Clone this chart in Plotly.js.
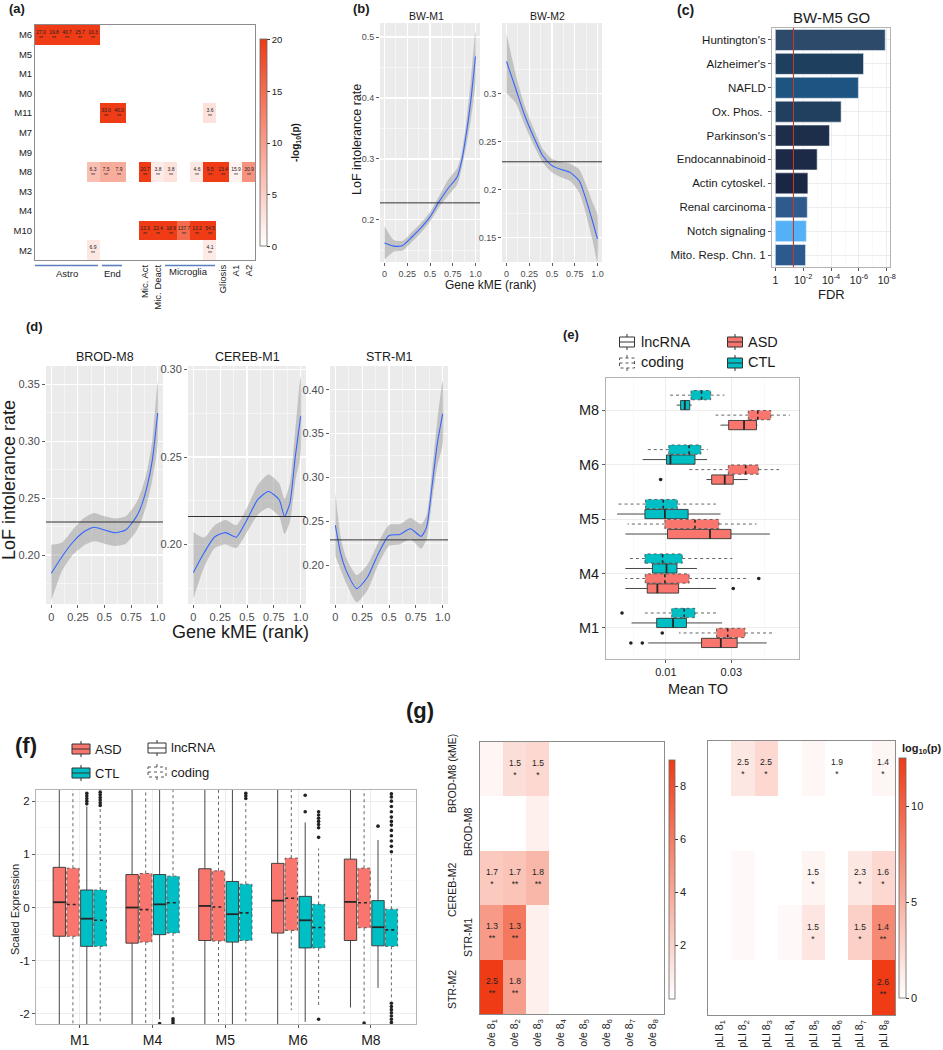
<!DOCTYPE html>
<html>
<head>
<meta charset="utf-8">
<script src="https://cdn.plot.ly/plotly-3.0.1.min.js"></script>
<style>
  html, body { margin: 0; padding: 0; background: #fff; }
  #fig { width: 943px; height: 1050px; }
</style>
</head>
<body>
<div id="fig"></div>
<script>
// ---------- (a) cell-type enrichment heatmap ----------
const aRows = ['M6', 'M5', 'M1', 'M0', 'M11', 'M7', 'M9', 'M8', 'M3', 'M4', 'M10', 'M2'];
const aCols = ['Astro 1', 'Astro 2', 'Astro 3', 'Astro 4', 'Astro 5', 'End 1', 'End 2', '',
  'Mic. Act', 'Mic. Deact', 'Microglia 1', 'Microglia 2', 'Microglia 3', 'Microglia 4', 'Gliosis', 'A1', 'A2'];
// -log10(p), capped at 20
const aLogP = [
  [20, 20, 20, 20, 20, 0, 0, 0, 0, 0, 0, 0, 0, 0, 0, 0, 0],
  [0, 0, 0, 0, 0, 0, 0, 0, 0, 0, 0, 0, 0, 0, 0, 0, 0],
  [0, 0, 0, 0, 0, 0, 0, 0, 0, 0, 0, 0, 0, 0, 0, 0, 0],
  [0, 0, 0, 0, 0, 0, 0, 0, 0, 0, 0, 0, 0, 0, 0, 0, 0],
  [0, 0, 0, 0, 0, 20, 20, 0, 0, 0, 0, 0, 0, 3, 0, 0, 0],
  [0, 0, 0, 0, 0, 0, 0, 0, 0, 0, 0, 0, 0, 0, 0, 0, 0],
  [0, 0, 0, 0, 0, 0, 0, 0, 0, 0, 0, 0, 0, 0, 0, 0, 0],
  [0, 0, 0, 0, 6.5, 8.5, 8.5, 0, 20, 2, 3, 0, 2.5, 20, 20, 1.2, 11],
  [0, 0, 0, 0, 0, 0, 0, 0, 0, 0, 0, 0, 0, 0, 0, 0, 0],
  [0, 0, 0, 0, 0, 0, 0, 0, 0, 0, 0, 0, 0, 0, 0, 0, 0],
  [0, 0, 0, 0, 0, 0, 0, 0, 20, 20, 20, 15, 20, 20, 0, 0, 0],
  [0, 0, 0, 0, 2.5, 0, 0, 0, 0, 0, 0, 0, 0, 2.2, 0, 0, 0]
];
const N = null;
// odds ratios printed in the cells
const aOR = [
  [27.0, 19.8, 40.7, 25.7, 10.3, N, N, N, N, N, N, N, N, N, N, N, N],
  [N, N, N, N, N, N, N, N, N, N, N, N, N, N, N, N, N],
  [N, N, N, N, N, N, N, N, N, N, N, N, N, N, N, N, N],
  [N, N, N, N, N, N, N, N, N, N, N, N, N, N, N, N, N],
  [N, N, N, N, N, 33.0, 40.0, N, N, N, N, N, N, 3.6, N, N, N],
  [N, N, N, N, N, N, N, N, N, N, N, N, N, N, N, N, N],
  [N, N, N, N, N, N, N, N, N, N, N, N, N, N, N, N, N],
  [N, N, N, N, 6.3, 7.5, 7.9, N, 20.7, 3.8, 3.8, N, 4.6, 9.5, 13.4, 15.9, 30.9],
  [N, N, N, N, N, N, N, N, N, N, N, N, N, N, N, N, N],
  [N, N, N, N, N, N, N, N, N, N, N, N, N, N, N, N, N],
  [N, N, N, N, N, N, N, N, 13.3, 22.4, 18.9, 137.7, 13.2, 54.5, N, N, N],
  [N, N, N, N, 6.9, N, N, N, N, N, N, N, N, 4.1, N, N, N]
];
const aTickCols = ['Mic. Act', 'Mic. Deact', 'Gliosis', 'A1', 'A2'];

// ---------- (b) BW modules, LoF intolerance vs kME ----------
const bwX = [0, 0.1, 0.2, 0.3, 0.4, 0.5, 0.6, 0.7, 0.8, 0.85, 0.9, 0.95, 1.0];
const bwM1Fit = [0.162, 0.157, 0.158, 0.172, 0.187, 0.205, 0.230, 0.252, 0.271, 0.298, 0.342, 0.397, 0.468];
const bwM1Lo = [0.135, 0.148, 0.150, 0.164, 0.179, 0.197, 0.221, 0.240, 0.258, 0.285, 0.322, 0.365, 0.425];
const bwM1Hi = [0.190, 0.167, 0.166, 0.180, 0.195, 0.213, 0.239, 0.266, 0.285, 0.311, 0.362, 0.430, 0.510];
const bwM2Fit = [0.333, 0.305, 0.277, 0.2545, 0.235, 0.225, 0.221, 0.218, 0.209, 0.197, 0.182, 0.166, 0.149];
const bwM2Lo = [0.300, 0.290, 0.267, 0.246, 0.228, 0.218, 0.213, 0.209, 0.197, 0.183, 0.165, 0.146, 0.124];
const bwM2Hi = [0.362, 0.320, 0.287, 0.263, 0.242, 0.232, 0.229, 0.227, 0.221, 0.211, 0.199, 0.186, 0.174];
const bwBase = [0.228, 0.229];

// ---------- (c) BW-M5 GO terms ----------
const cTerms = ["Huntington's", "Alzheimer's", 'NAFLD', 'Ox. Phos. ', "Parkinson's", 'Endocannabinoid',
  'Actin cytoskel.', 'Renal carcinoma', 'Notch signaling', 'Mito. Resp. Chn. 1'];
const cFdr = [1.3e-8, 4.7e-7, 1.1e-6, 1.9e-5, 1.3e-4, 1.0e-3, 4.6e-3, 5.1e-3, 6.0e-3, 6.8e-3];
const cColors = ['#2d4a6a', '#1f3f5e', '#1d5480', '#21405f', '#1d2e4b', '#1c2a47', '#1a2744', '#2f5b8c', '#55b1f7', '#2c5a8e'];
const cFdrCut = 0.05;

// ---------- (d) other modules ----------
const brodX = [0, 0.1, 0.2, 0.3, 0.4, 0.5, 0.6, 0.7, 0.8, 0.85, 0.9, 0.95, 1.0];
const brodFit = [0.184, 0.1985, 0.211, 0.220, 0.2244, 0.222, 0.2196, 0.222, 0.2337, 0.244, 0.260, 0.2836, 0.3247];
const brodLo = [0.160, 0.186, 0.200, 0.208, 0.212, 0.210, 0.208, 0.210, 0.221, 0.231, 0.246, 0.266, 0.298];
const brodHi = [0.209, 0.211, 0.222, 0.232, 0.237, 0.234, 0.232, 0.234, 0.246, 0.257, 0.274, 0.301, 0.352];
const cerebX = [0, 0.1, 0.2, 0.3, 0.4, 0.5, 0.6, 0.7, 0.8, 0.85, 0.9, 0.95, 1.0];
const cerebFit = [0.184, 0.1953, 0.2044, 0.2068, 0.2042, 0.2142, 0.2256, 0.2303, 0.2256, 0.2161, 0.2237, 0.2502, 0.2733];
const cerebLo = [0.169, 0.187, 0.198, 0.200, 0.198, 0.207, 0.217, 0.221, 0.216, 0.206, 0.213, 0.236, 0.252];
const cerebHi = [0.207, 0.204, 0.211, 0.214, 0.211, 0.221, 0.234, 0.240, 0.235, 0.226, 0.235, 0.265, 0.296];
const strX = [0, 0.05, 0.1, 0.2, 0.3, 0.4, 0.5, 0.6, 0.7, 0.8, 0.85, 0.9, 0.95, 1.0];
const strFit = [0.2455, 0.2133, 0.1943, 0.1735, 0.1867, 0.2133, 0.234, 0.2352, 0.2417, 0.233, 0.2436, 0.289, 0.3383, 0.3724];
const strLo = [0.211, 0.195, 0.180, 0.158, 0.172, 0.201, 0.222, 0.224, 0.230, 0.219, 0.230, 0.272, 0.313, 0.338];
const strHi = [0.282, 0.232, 0.209, 0.189, 0.201, 0.226, 0.246, 0.247, 0.254, 0.247, 0.257, 0.306, 0.364, 0.410];
const dBase = [0.229, 0.216, 0.229];

// ---------- (e) mean TO boxplots: [lower whisker, q1, median, q3, upper whisker] ----------
const eMods = ['M8', 'M6', 'M5', 'M4', 'M1'];
const eCtlCod = [[0.0107, 0.0177, 0.0209, 0.0237, 0.0279], [0.0043, 0.0109, 0.0171, 0.0207, 0.0228],
  [-0.0054, 0.0038, 0.0092, 0.0135, 0.0253], [-0.0010, 0.0036, 0.0090, 0.0150, 0.0303], [0.0036, 0.0118, 0.0156, 0.0189, 0.0255]];
const eCtlLnc = [[0.0133, 0.0145, 0.0158, 0.0173, 0.0179], [0.0029, 0.0102, 0.0114, 0.0189, 0.0226],
  [-0.0049, 0.0036, 0.0097, 0.0168, 0.0267], [-0.0024, 0.0059, 0.0102, 0.0134, 0.0195], [-0.0005, 0.0072, 0.0122, 0.0163, 0.0272]];
const eAsdCod = [[0.0252, 0.0352, 0.0381, 0.0421, 0.0479], [0.0168, 0.0291, 0.0344, 0.0383, 0.0446],
  [-0.0017, 0.0097, 0.0189, 0.0262, 0.0377], [-0.0024, 0.0037, 0.0097, 0.0171, 0.0347], [0.0140, 0.0255, 0.0289, 0.0342, 0.0434]];
const eAsdLnc = [[0.0267, 0.0292, 0.0339, 0.0377, 0.0380], [0.0224, 0.0240, 0.0280, 0.0306, 0.0350],
  [-0.0024, 0.0105, 0.0235, 0.0299, 0.0418], [-0.0024, 0.0043, 0.0074, 0.0139, 0.0253], [0.0046, 0.0209, 0.0268, 0.0318, 0.0408]];
const eCtlCodOut = [[], [], [], [], [-0.0034]];
const eCtlLncOut = [[], [], [], [], []];
const eAsdCodOut = [[], [], [], [0.0384], [0.0089]];
const eAsdLncOut = [[], [0.0084], [], [0.0306], [-0.0007, 0.0028]];

// ---------- (f) scaled expression boxplots ----------
const fMods = ['M1', 'M4', 'M5', 'M6', 'M8'];
const fAsdLnc = [[-2.5, -0.54, 0.10, 0.756, 2.5], [-2.5, -0.67, 0.00, 0.62, 2.5], [-2.5, -0.62, 0.03, 0.73, 2.5],
  [-2.5, -0.48, 0.13, 0.83, 2.5], [-1.88, -0.62, 0.106, 0.91, 2.5]];
const fAsdCod = [[-2.5, -0.54, 0.056, 0.74, 2.5], [-2.5, -0.65, -0.04, 0.64, 2.5], [-2.5, -0.63, 0.01, 0.69, 2.5],
  [-1.93, -0.43, 0.175, 0.93, 2.5], [-2.0, -0.38, 0.09, 0.74, 2.5]];
const fCtlLnc = [[-2.5, -0.73, -0.21, 0.33, 1.9], [-2.1, -0.51, 0.06, 0.62, 2.5], [-2.5, -0.65, -0.125, 0.49, 2.5],
  [-2.15, -0.76, -0.24, 0.21, 1.6], [-1.51, -0.72, -0.37, 0.13, 1.27]];
const fCtlCod = [[-2.5, -0.73, -0.24, 0.33, 1.9], [-2.05, -0.48, 0.09, 0.59, 2.5], [-2.5, -0.62, -0.10, 0.44, 2.0],
  [-1.88, -0.76, -0.375, 0.06, 1.11], [-1.75, -0.73, -0.42, -0.03, 1.0]];
const fAsdLncOut = [[], [], [], [], []];
const fAsdCodOut = [[], [], [], [], [-2.17]];
const fCtlLncOut = [[1.95, 2.0, 2.05, 2.1, 2.15], [-2.18], [], [1.8, 2.11], [1.53]];
const fCtlCodOut = [[1.92, 1.97, 2.02, 2.07, 2.12, 2.17], [-2.09, -2.13, -2.17], [2.05, 2.1, 2.15],
  [1.32, 1.5, 1.56, 1.62, 1.68, 1.74, 1.8, -2.1],
  [1.05, 1.15, 1.25, 1.35, 1.45, 1.55, 1.62, 1.7, 1.8, 1.9, 2.0, 2.08, 2.14, -1.8, -1.86, -1.92, -1.98, -2.04, -2.1, -2.16]];

// ---------- (g) enrichment heatmaps ----------
const gRows = ['BROD-M8 (kME)', 'BROD-M8', 'CEREB-M2', 'STR-M1', 'STR-M2'];
const gOeCols = ['o/e 8<sub>1</sub>', 'o/e 8<sub>2</sub>', 'o/e 8<sub>3</sub>', 'o/e 8<sub>4</sub>',
  'o/e 8<sub>5</sub>', 'o/e 8<sub>6</sub>', 'o/e 8<sub>7</sub>', 'o/e 8<sub>8</sub>'];
const gPliCols = ['pLI 8<sub>1</sub>', 'pLI 8<sub>2</sub>', 'pLI 8<sub>3</sub>', 'pLI 8<sub>4</sub>',
  'pLI 8<sub>5</sub>', 'pLI 8<sub>6</sub>', 'pLI 8<sub>7</sub>', 'pLI 8<sub>8</sub>'];
const gOeLogP = [
  [0.4, 1.5, 1.8, 0, 0, 0, 0, 0],
  [0, 0, 0.7, 0, 0, 0, 0, 0],
  [2.5, 2.7, 3.3, 0, 0, 0, 0, 0],
  [4.6, 6.2, 0.7, 0, 0, 0, 0, 0],
  [9.0, 4.5, 0.7, 0, 0, 0, 0, 0]
];
const gOeOR = [
  [N, 1.5, 1.5, N, N, N, N, N],
  [N, N, N, N, N, N, N, N],
  [1.7, 1.7, 1.8, N, N, N, N, N],
  [1.3, 1.3, N, N, N, N, N, N],
  [2.5, 1.8, N, N, N, N, N, N]
];
const gOeSig = [
  ['', '*', '*', '', '', '', '', ''],
  ['', '', '', '', '', '', '', ''],
  ['*', '**', '**', '', '', '', '', ''],
  ['**', '**', '', '', '', '', '', ''],
  ['**', '**', '', '', '', '', '', '']
];
const gPliLogP = [
  [0, 1.5, 2.5, 0, 0.5, 0, 0, 0.6],
  [0, 0, 0, 0, 0, 0, 0, 0],
  [0, 0.4, 0, 0, 0.7, 0, 1.5, 2.5],
  [0, 0.4, 0, 0.4, 1.6, 0, 3.0, 7.5],
  [0, 0, 0, 0, 0, 0, 0, 12.5]
];
const gPliOR = [
  [N, 2.5, 2.5, N, N, 1.9, N, 1.4],
  [N, N, N, N, N, N, N, N],
  [N, N, N, N, 1.5, N, 2.3, 1.6],
  [N, N, N, N, 1.5, N, 1.5, 1.4],
  [N, N, N, N, N, N, N, 2.6]
];
const gPliSig = [
  ['', '*', '*', '', '', '*', '', '*'],
  ['', '', '', '', '', '', '', ''],
  ['', '', '', '', '*', '', '*', '*'],
  ['', '', '', '', '*', '', '*', '**'],
  ['', '', '', '', '', '', '', '**']
];

// ---------- helpers ----------
const FONT = 'Liberation Sans, Arial, Helvetica, sans-serif';
const W = 943, H = 1050;
const PX = v => v / W;
const PY = v => 1 - v / H;
const DX = (a, b) => [a / W, b / W];
const DY = (a, b) => [1 - b / H, 1 - a / H];
const ASD = '#f8766d', CTL = '#00bfc4';
const redScale = [[0, '#ffffff'], [1, '#ef3b16']];
const kmeTicks = [0, 0.25, 0.5, 0.75, 1];
const kmeText = ['0', '0.25', '0.5', '0.75', '1.0'];
const kmeMinor = [0.125, 0.375, 0.625, 0.875];

function grayAxis(domain, anchor, range, ticks, labels, minorTicks, fsize) {
  return {
    domain: domain, anchor: anchor, range: range, tickmode: 'array', tickvals: ticks, ticktext: labels,
    showgrid: true, gridcolor: '#ffffff', gridwidth: 1.1,
    minor: {tickmode: 'array', tickvals: minorTicks, showgrid: true, gridcolor: '#ffffff', gridwidth: 0.5},
    zeroline: false, showline: false, ticks: 'outside', ticklen: 3, tickwidth: 0.8, tickcolor: '#333',
    tickfont: {size: fsize, color: '#4d4d4d'}, fixedrange: true
  };
}
function bwAxis(domain, anchor, range, ticks, labels, minorTicks, fsize) {
  return {
    domain: domain, anchor: anchor, range: range, tickmode: 'array', tickvals: ticks, ticktext: labels,
    showgrid: true, gridcolor: '#ebebeb', gridwidth: 0.9,
    minor: {tickmode: 'array', tickvals: minorTicks, showgrid: true, gridcolor: '#f4f4f4', gridwidth: 0.5},
    zeroline: false, showline: true, mirror: true, linecolor: '#b3b3b3', linewidth: 1,
    ticks: 'outside', ticklen: 3, tickwidth: 0.8, tickcolor: '#333',
    tickfont: {size: fsize, color: '#1a1a1a'}, fixedrange: true
  };
}
function heatAxis(domain, anchor, range, extra) {
  return Object.assign({
    domain: domain, anchor: anchor, range: range, showgrid: false, zeroline: false,
    showline: true, mirror: true, linecolor: '#8c8c8c', linewidth: 1, ticks: '', fixedrange: true
  }, extra);
}
function smooth(xs, fit, lo, hi, n) {
  return [
    {type: 'scatter', mode: 'lines', x: xs.concat(xs.slice().reverse()), y: hi.concat(lo.slice().reverse()),
      fill: 'toself', fillcolor: 'rgba(153,153,153,0.5)', line: {width: 0, shape: 'spline', smoothing: 0.6},
      xaxis: 'x' + n, yaxis: 'y' + n, hoverinfo: 'skip', showlegend: false},
    {type: 'scatter', mode: 'lines', x: xs, y: fit, line: {color: '#3366ff', width: 1.1, shape: 'spline', smoothing: 0.6},
      xaxis: 'x' + n, yaxis: 'y' + n, hoverinfo: 'skip', showlegend: false}
  ];
}
// boxes drawn as closed paths: rect + whiskers, and a separate median trace
function boxes(stats, centers, off, half, vertical, fill, dash, n) {
  const a = [], b = [], ma = [], mb = [];
  stats.forEach((s, i) => {
    const c = centers[i] + off;
    a.push(c - half, c + half, c + half, c - half, c - half, null, c, c, null, c, c, null);
    b.push(s[1], s[1], s[3], s[3], s[1], null, s[3], s[4], null, s[1], s[0], null);
    ma.push(c - half, c + half, null);
    mb.push(s[2], s[2], null);
  });
  const ln = {color: dash ? '#555' : '#333', width: 0.9, dash: dash ? 'dot' : 'solid'};
  return [
    {type: 'scatter', mode: 'lines', x: vertical ? a : b, y: vertical ? b : a, fill: 'toself', fillcolor: fill,
      line: ln, xaxis: 'x' + n, yaxis: 'y' + n, hoverinfo: 'skip', showlegend: false},
    {type: 'scatter', mode: 'lines', x: vertical ? ma : mb, y: vertical ? mb : ma,
      line: {color: '#262626', width: dash ? 1.6 : 1.8, dash: dash ? 'dot' : 'solid'},
      xaxis: 'x' + n, yaxis: 'y' + n, hoverinfo: 'skip', showlegend: false}
  ];
}
function outliers(lists, centers, off, vertical, n) {
  const a = [], b = [];
  lists.forEach((vals, i) => vals.forEach(v => { a.push(centers[i] + off); b.push(v); }));
  return {type: 'scatter', mode: 'markers', x: vertical ? a : b, y: vertical ? b : a,
    marker: {color: '#222', size: 3.6}, xaxis: 'x' + n, yaxis: 'y' + n, hoverinfo: 'skip', showlegend: false};
}
function cellText(or, sig) {
  return or.map((r, i) => r.map((v, j) => v == null ? '' : v.toFixed(1) + '<br>' + sig[i][j]));
}
function txt(x, y, text, size, opts) {
  return Object.assign({xref: 'paper', yref: 'paper', x: PX(x), y: PY(y), text: text, showarrow: false,
    font: {size: size, color: '#1a1a1a', family: FONT}, xanchor: 'center', yanchor: 'middle'}, opts || {});
}
function keyIcon(cx, cy, w, fill, dash) {
  const ln = {color: dash ? '#555' : '#333', width: 1, dash: dash ? 'dot' : 'solid'};
  const s = (x0, y0, x1, y1, type, extra) => Object.assign({type: type, xref: 'paper', yref: 'paper',
    x0: PX(x0), x1: PX(x1), y0: PY(y0), y1: PY(y1), line: ln}, extra || {});
  return [
    s(cx - w / 2, cy - 5, cx + w / 2, cy + 5, 'rect', {fillcolor: fill}),
    s(cx - w / 2, cy, cx + w / 2, cy, 'line'),
    s(cx, cy - 8, cx, cy - 5, 'line'),
    s(cx, cy + 5, cx, cy + 8, 'line')
  ];
}
function grayBg(n) {
  return {type: 'rect', xref: 'x' + n + ' domain', yref: 'y' + n + ' domain', x0: 0, x1: 1, y0: 0, y1: 1,
    fillcolor: '#ebebeb', line: {width: 0}, layer: 'below'};
}
function baseLine(n, v) {
  return {type: 'line', xref: 'x' + n + ' domain', yref: 'y' + n, x0: 0, x1: 1, y0: v, y1: v,
    line: {color: '#333', width: 1}};
}

// ---------- traces ----------
const traces = [];

traces.push({
  type: 'heatmap', x: aCols.map((_, i) => i), y: aRows.map((_, i) => i), z: aLogP,
  text: cellText(aOR, aOR.map(r => r.map(() => '**'))), texttemplate: '%{text}',
  textfont: {size: 5, color: '#222', family: FONT},
  colorscale: redScale, zmin: 0, zmax: 20, xaxis: 'x', yaxis: 'y', hoverinfo: 'skip',
  colorbar: {x: PX(260), xanchor: 'left', xpad: 0, y: PY(143), yanchor: 'middle', ypad: 0,
    len: 207, lenmode: 'pixels', thickness: 7, thicknessmode: 'pixels', outlinecolor: '#666', outlinewidth: 0.8,
    tickmode: 'array', tickvals: [0, 5, 10, 15, 20], ticks: 'outside', ticklen: 3, tickcolor: '#333',
    tickfont: {size: 9.5, color: '#222', family: FONT}}
});

traces.push(...smooth(bwX, bwM1Fit, bwM1Lo, bwM1Hi, 2));
traces.push(...smooth(bwX, bwM2Fit, bwM2Lo, bwM2Hi, 3));

traces.push({
  type: 'bar', orientation: 'h', x: cFdr.map(v => -Math.log10(v)), y: cTerms,
  marker: {color: cColors, line: {color: '#e8eef5', width: 0.6}}, xaxis: 'x4', yaxis: 'y4',
  hoverinfo: 'skip', showlegend: false
});

traces.push(...smooth(brodX, brodFit, brodLo, brodHi, 5));
traces.push(...smooth(cerebX, cerebFit, cerebLo, cerebHi, 6));
traces.push(...smooth(strX, strFit, strLo, strHi, 7));

const ePos = eMods.map((_, i) => eMods.length - i);
traces.push(...boxes(eCtlCod, ePos, 0.275, 0.085, false, CTL, true, 8));
traces.push(...boxes(eCtlLnc, ePos, 0.092, 0.085, false, CTL, false, 8));
traces.push(...boxes(eAsdCod, ePos, -0.092, 0.085, false, ASD, true, 8));
traces.push(...boxes(eAsdLnc, ePos, -0.275, 0.085, false, ASD, false, 8));
traces.push(outliers(eCtlCodOut, ePos, 0.275, false, 8));
traces.push(outliers(eCtlLncOut, ePos, 0.092, false, 8));
traces.push(outliers(eAsdCodOut, ePos, -0.092, false, 8));
traces.push(outliers(eAsdLncOut, ePos, -0.275, false, 8));

const fPos = fMods.map((_, i) => i + 1);
traces.push(...boxes(fAsdLnc, fPos, -0.28, 0.085, true, ASD, false, 9));
traces.push(...boxes(fAsdCod, fPos, -0.093, 0.085, true, ASD, true, 9));
traces.push(...boxes(fCtlLnc, fPos, 0.098, 0.085, true, CTL, false, 9));
traces.push(...boxes(fCtlCod, fPos, 0.282, 0.085, true, CTL, true, 9));
traces.push(outliers(fAsdLncOut, fPos, -0.28, true, 9));
traces.push(outliers(fAsdCodOut, fPos, -0.093, true, 9));
traces.push(outliers(fCtlLncOut, fPos, 0.098, true, 9));
traces.push(outliers(fCtlCodOut, fPos, 0.282, true, 9));

traces.push({
  type: 'heatmap', x: gOeCols.map((_, i) => i), y: gRows.map((_, i) => i), z: gOeLogP,
  text: cellText(gOeOR, gOeSig), texttemplate: '%{text}', textfont: {size: 8.5, color: '#222', family: FONT},
  colorscale: redScale, zmin: 0, zmax: 9, xaxis: 'x10', yaxis: 'y10', hoverinfo: 'skip',
  colorbar: {x: PX(669), xanchor: 'left', xpad: 0, y: PY(879), yanchor: 'middle', ypad: 0,
    len: 239, lenmode: 'pixels', thickness: 6, thicknessmode: 'pixels', outlinecolor: '#666', outlinewidth: 0.8,
    tickmode: 'array', tickvals: [2, 4, 6, 8], ticks: 'outside', ticklen: 3, tickcolor: '#333',
    tickfont: {size: 11, color: '#222', family: FONT}}
});
traces.push({
  type: 'heatmap', x: gPliCols.map((_, i) => i), y: gRows.map((_, i) => i), z: gPliLogP,
  text: cellText(gPliOR, gPliSig), texttemplate: '%{text}', textfont: {size: 8.5, color: '#222', family: FONT},
  colorscale: redScale, zmin: 0, zmax: 12.5, xaxis: 'x11', yaxis: 'y11', hoverinfo: 'skip',
  colorbar: {x: PX(899), xanchor: 'left', xpad: 0, y: PY(878), yanchor: 'middle', ypad: 0,
    len: 240, lenmode: 'pixels', thickness: 7, thicknessmode: 'pixels', outlinecolor: '#666', outlinewidth: 0.8,
    tickmode: 'array', tickvals: [0, 5, 10], ticks: 'outside', ticklen: 3, tickcolor: '#333',
    tickfont: {size: 11, color: '#222', family: FONT}}
});

// ---------- layout ----------
const layout = {
  width: W, height: H, margin: {l: 0, r: 0, t: 0, b: 0},
  paper_bgcolor: '#ffffff', plot_bgcolor: 'rgba(0,0,0,0)',
  font: {family: FONT, color: '#1a1a1a'}, showlegend: false, bargap: 0.12,

  xaxis: heatAxis(DX(35, 255), 'y', [-0.5, aCols.length - 0.5], {
    tickmode: 'array', tickvals: aTickCols.map(c => aCols.indexOf(c)), ticktext: aTickCols,
    tickangle: -90, tickfont: {size: 9.5, color: '#1a1a1a'}}),
  yaxis: heatAxis(DY(25, 260), 'x', [aRows.length - 0.5, -0.5], {
    tickmode: 'array', tickvals: aRows.map((_, i) => i), ticktext: aRows, tickfont: {size: 9.5, color: '#1a1a1a'}}),

  xaxis2: grayAxis(DX(380, 480), 'y2', [-0.05, 1.05], kmeTicks, kmeText, kmeMinor, 9),
  yaxis2: grayAxis(DY(23, 262), 'x2', [0.131, 0.523], [0.2, 0.3, 0.4, 0.5], ['0.2', '0.3', '0.4', '0.5'],
    [0.15, 0.25, 0.35, 0.45], 9),
  xaxis3: grayAxis(DX(502, 602), 'y3', [-0.05, 1.05], kmeTicks, kmeText, kmeMinor, 9),
  yaxis3: grayAxis(DY(23, 262), 'x3', [0.125, 0.373], [0.15, 0.2, 0.25, 0.3], ['0.15', '0.2', '0.25', '0.3'],
    [0.175, 0.225, 0.275, 0.325], 9),

  xaxis4: bwAxis(DX(772, 890), 'y4', [-0.24, 8.23], [0, 2, 4, 6, 8],
    ['1', '10<sup>-2</sup>', '10<sup>-4</sup>', '10<sup>-6</sup>', '10<sup>-8</sup>'], [1, 3, 5, 7], 10.5),
  yaxis4: {domain: DY(28, 267), anchor: 'x4', type: 'category', categoryorder: 'array', categoryarray: cTerms,
    autorange: 'reversed', showgrid: true, gridcolor: '#ebebeb', gridwidth: 0.9, zeroline: false,
    showline: true, mirror: true, linecolor: '#b3b3b3', linewidth: 1, ticks: 'outside', ticklen: 3,
    tickwidth: 0.8, tickcolor: '#333', tickfont: {size: 11.5, color: '#1a1a1a'}, fixedrange: true},

  xaxis5: grayAxis(DX(46, 163), 'y5', [-0.05, 1.05], kmeTicks, kmeText, kmeMinor, 11),
  yaxis5: grayAxis(DY(366, 604), 'x5', [0.157, 0.366], [0.20, 0.25, 0.30, 0.35], ['0.20', '0.25', '0.30', '0.35'],
    [0.175, 0.225, 0.275, 0.325], 11),
  xaxis6: grayAxis(DX(188, 306), 'y6', [-0.05, 1.05], kmeTicks, kmeText, kmeMinor, 11),
  yaxis6: grayAxis(DY(366, 604), 'x6', [0.166, 0.302], [0.20, 0.25, 0.30], ['0.20', '0.25', '0.30'],
    [0.175, 0.225, 0.275], 11),
  xaxis7: grayAxis(DX(330, 448), 'y7', [-0.05, 1.05], kmeTicks, kmeText, kmeMinor, 11),
  yaxis7: grayAxis(DY(366, 604), 'x7', [0.156, 0.427], [0.20, 0.25, 0.30, 0.35, 0.40],
    ['0.20', '0.25', '0.30', '0.35', '0.40'], [0.175, 0.225, 0.275, 0.325, 0.375], 11),

  xaxis8: bwAxis(DX(606, 799), 'y8', [-0.0083, 0.0507], [0.01, 0.03], ['0.01', '0.03'], [0, 0.02, 0.04], 11),
  yaxis8: bwAxis(DY(378, 659), 'x8', [0.43, 5.59], ePos, eMods, [], 14.5),

  xaxis9: bwAxis(DX(36, 416), 'y9', [0.4, 5.62], fPos, fMods, [], 14),
  yaxis9: bwAxis(DY(790, 1024), 'x9', [-2.19, 2.21], [-2, -1, 0, 1, 2], ['-2', '-1', '0', '1', '2'],
    [-1.5, -0.5, 0.5, 1.5], 11.5),

  xaxis10: heatAxis(DX(480, 664), 'y10', [-0.5, gOeCols.length - 0.5], {
    tickmode: 'array', tickvals: gOeCols.map((_, i) => i), ticktext: gOeCols, tickangle: -90,
    tickfont: {size: 10.5, color: '#1a1a1a'}}),
  yaxis10: heatAxis(DY(742, 1014), 'x10', [gRows.length - 0.5, -0.5], {showticklabels: false}),
  xaxis11: heatAxis(DX(708, 895), 'y11', [-0.5, gPliCols.length - 0.5], {
    tickmode: 'array', tickvals: gPliCols.map((_, i) => i), ticktext: gPliCols, tickangle: -90,
    tickfont: {size: 10.5, color: '#1a1a1a'}}),
  yaxis11: heatAxis(DY(741, 1015), 'x11', [gRows.length - 0.5, -0.5], {showticklabels: false}),

  shapes: [],
  annotations: []
};

// panel backgrounds and reference lines
[2, 3, 5, 6, 7].forEach(n => layout.shapes.push(grayBg(n)));
bwBase.forEach((v, i) => layout.shapes.push(baseLine(i + 2, v)));
dBase.forEach((v, i) => layout.shapes.push(baseLine(i + 5, v)));
layout.shapes.push({type: 'line', xref: 'x4', yref: 'y4 domain', x0: -Math.log10(cFdrCut), x1: -Math.log10(cFdrCut),
  y0: 0, y1: 1, line: {color: '#c0392b', width: 1.1}});

// (a) group brackets
const blue = {color: '#5b7fbf', width: 1.6};
[[35, 98], [102, 122], [165, 215]].forEach(g => layout.shapes.push({type: 'line', xref: 'paper', yref: 'paper',
  x0: PX(g[0]), x1: PX(g[1]), y0: PY(265.5), y1: PY(265.5), line: blue}));

// legend keys (e) and (f)
layout.shapes.push(...keyIcon(627, 342, 15, '#ffffff', false), ...keyIcon(627, 363, 15, '#ffffff', true),
  ...keyIcon(735, 342, 15, ASD, false), ...keyIcon(735, 363, 15, CTL, false));
layout.shapes.push(...keyIcon(81, 749, 18, ASD, false), ...keyIcon(81, 773, 18, CTL, false),
  ...keyIcon(157, 748, 18, '#ffffff', false), ...keyIcon(157, 772, 18, '#ffffff', true));

const A = layout.annotations;
// panel letters
A.push(txt(17, 8, '<b>(a)</b>', 13), txt(361, 8, '<b>(b)</b>', 13), txt(685, 10, '<b>(c)</b>', 14),
  txt(34, 327, '<b>(d)</b>', 13), txt(571, 334, '<b>(e)</b>', 13), txt(26, 745, '<b>(f)</b>', 22),
  txt(420, 710, '<b>(g)</b>', 22));
// (a)
A.push(txt(296, 143, '<b>-log<sub>10</sub>(p)</b>', 10, {textangle: -90}),
  txt(67, 273, 'Astro', 9.5), txt(112, 273, 'End', 9.5), txt(188, 271, 'Microglia', 9.5));
// (b)
A.push(txt(426, 16, 'BW-M1', 10.5), txt(547, 16, 'BW-M2', 10.5),
  txt(357, 140, 'LoF intolerance rate', 12.5, {textangle: -90}), txt(490, 285, 'Gene kME (rank)', 12));
// (c)
A.push(txt(831, 17, 'BW-M5 GO', 15), txt(831, 294, 'FDR', 13));
// (d)
A.push(txt(104.5, 357, 'BROD-M8', 12.5), txt(247, 357, 'CEREB-M1', 12.5), txt(389, 357, 'STR-M1', 12.5),
  txt(9, 480, 'LoF intolerance rate', 18, {textangle: -90}), txt(241, 632, 'Gene kME (rank)', 18));
// (e)
A.push(txt(639, 342, 'lncRNA', 14.5, {xanchor: 'left'}), txt(639, 362, 'coding', 14.5, {xanchor: 'left'}),
  txt(746, 342, 'ASD', 14.5, {xanchor: 'left'}), txt(746, 362, 'CTL', 14.5, {xanchor: 'left'}),
  txt(698, 689, 'Mean TO', 14.5));
// (f)
A.push(txt(93, 749, 'ASD', 13, {xanchor: 'left'}), txt(93, 773, 'CTL', 13, {xanchor: 'left'}),
  txt(169, 747, 'lncRNA', 13, {xanchor: 'left'}), txt(169, 772, 'coding', 13, {xanchor: 'left'}),
  txt(15, 910, 'Scaled Expression', 11, {textangle: -90}));
// (g)
const gLabX = [452, 468, 452, 468, 452];
const gLabY = [774, 832, 890, 938, 990];
gRows.forEach((r, i) => A.push(txt(gLabX[i], gLabY[i], r, 10.5, {textangle: -90})));
A.push(txt(921, 749, '<b>log<sub>10</sub>(p)</b>', 11));

Plotly.newPlot('fig', traces, layout, {staticPlot: true, displayModeBar: false});
</script>
</body>
</html>
